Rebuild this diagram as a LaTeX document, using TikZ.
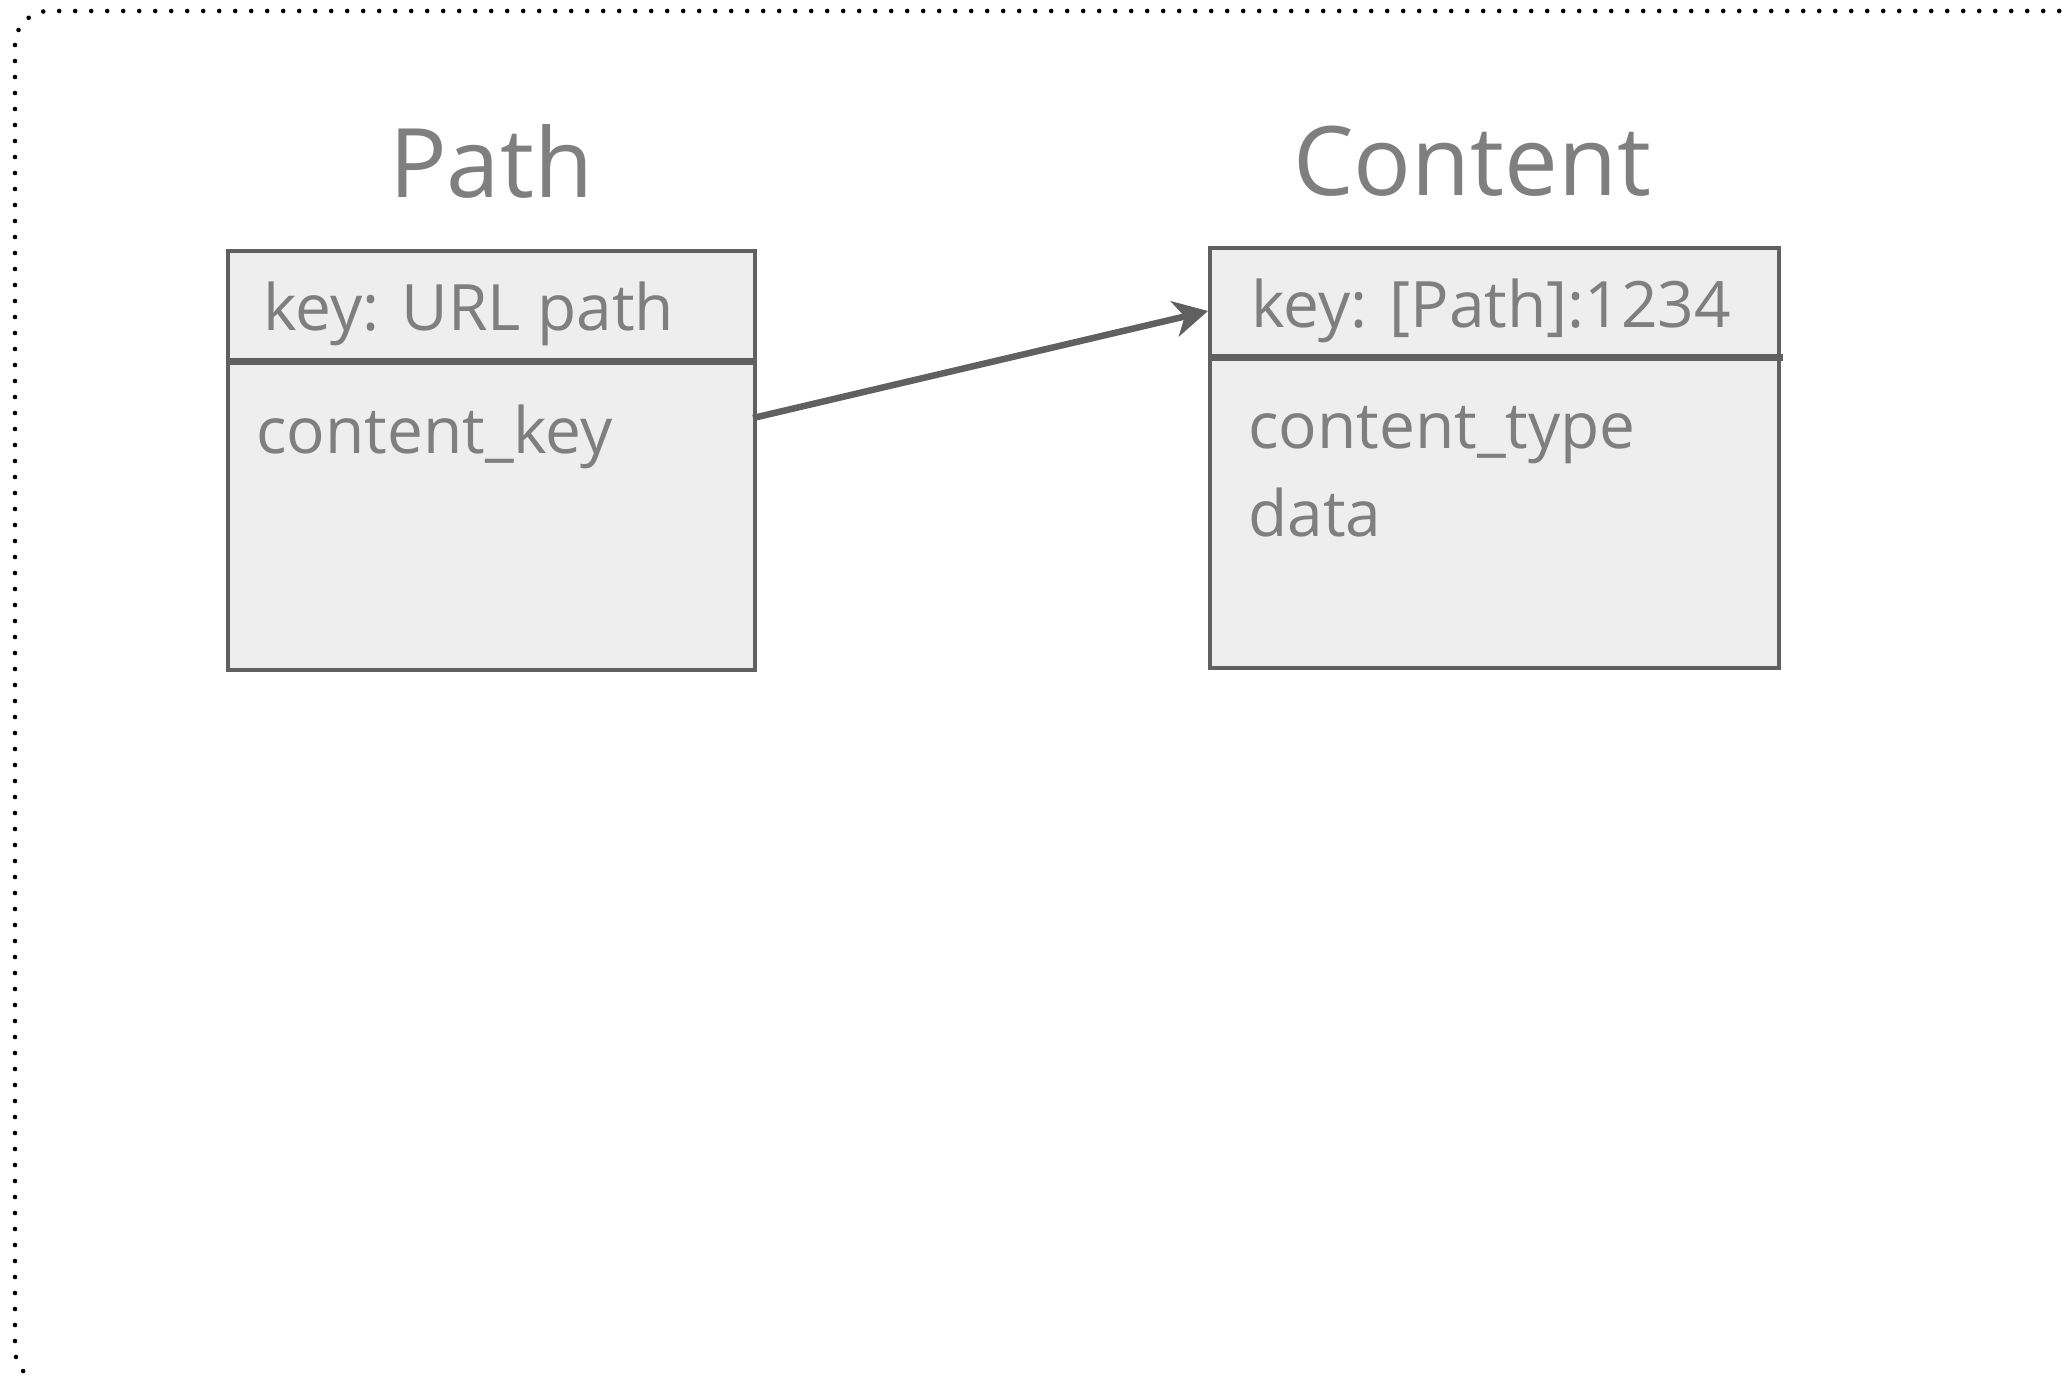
\documentclass[tikz,border=0pt]{standalone}
\usepackage{fontspec}
\setmainfont{Open Sans}
\usetikzlibrary{calc,arrows.meta}
\definecolor{boxline}{HTML}{606060}
\definecolor{boxfill}{HTML}{EEEEEE}
\definecolor{labeltext}{HTML}{7F7F7F}
\newcommand\fieldFont{\fontsize{64}{86}\selectfont}
\newcommand\titleFont{\fontsize{96}{116}\selectfont}

\begin{document}
\begin{tikzpicture}[x=1pt,y=-1pt,
  tablebox/.style={draw=boxline,fill=boxfill,line width=4pt,inner sep=0pt},
  sepline/.style={draw=boxline,line width=7pt},
  fieldtext/.style={anchor=base west,inner sep=0pt,text=labeltext,font=\fieldFont},
  titletext/.style={anchor=base,inner sep=0pt,text=labeltext,font=\titleFont},
  linkarrow/.style={draw=boxline,line width=6.5pt,-{Stealth[length=34pt,width=36pt,inset=10pt]}}]

  \useasboundingbox (0,0) rectangle (2069,1377);

  %% Dotted frame (runs off the right and bottom edges)
  \draw[line width=4.6pt,line cap=round,dash pattern=on 0pt off 16pt,rounded corners=34pt]
    (15,11) rectangle (2096,1383);

  %% Table titles
  \node[titletext] (PathTitle)    at (491,197)  {Path};
  \node[titletext] (ContentTitle) at (1472,195) {Content};

  %% The two tables
  \node[tablebox,minimum width=527,minimum height=419] (PathBox)    at (491.5,460.5) {};
  \node[tablebox,minimum width=569,minimum height=420] (ContentBox) at (1494.5,458)  {};
  \draw[sepline] ($(PathBox.north west)+(2,112)$) -- ($(PathBox.north east)+(-2,112)$);
  \draw[sepline] ($(ContentBox.north west)+(2,111)$) -- ($(ContentBox.north east)+(2,111)$);

  %% Keys and fields
  \node[fieldtext] (PathKey)    at (263,330)  {key: URL path};
  \node[fieldtext] (PathField)  at (256,453)  {content\_key};
  \node[fieldtext] (ContentKey) at (1251,327) {key: [Path]:1234};
  \foreach \field/\y [count=\i] in {content\_type/448, data/536}
    \node[fieldtext] (ContentField\i) at (1248,\y) {\field};

  %% Link from content_key to the Content key
  \coordinate (PathOut)   at ($(PathBox.east |- 0,418)+(-4,0)$);
  \coordinate (ContentIn) at (ContentBox.west |- 0,311);
  \draw[linkarrow] (PathOut) -- (ContentIn);

\end{tikzpicture}
\end{document}
